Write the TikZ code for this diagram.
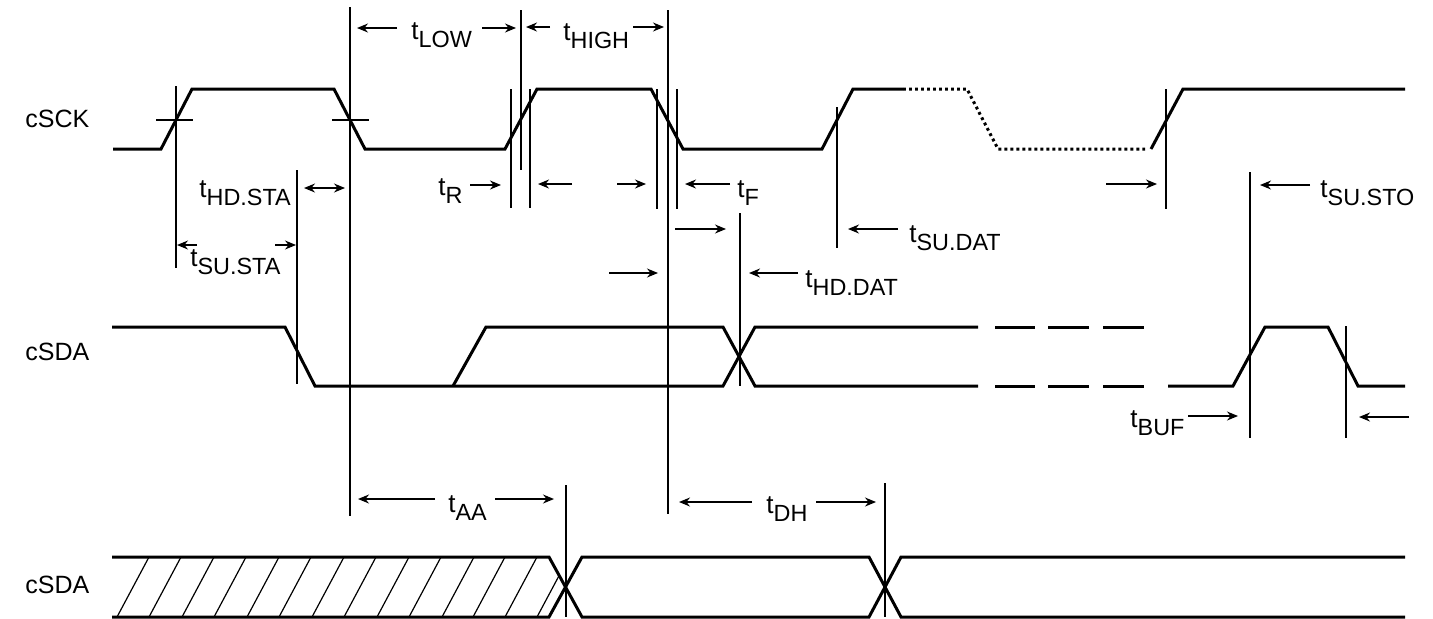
\documentclass[tikz,border=0pt]{standalone}
\usepackage{fontspec}
\setmainfont{Liberation Sans}
\usetikzlibrary{arrows.meta}
\newcommand{\tp}[1]{t\raisebox{-4.3pt}{\fontsize{11.7pt}{13pt}\selectfont #1}}

\begin{document}
\begin{tikzpicture}[x=0.5pt,y=-0.5pt,
	sig/.style={line width=1.5pt},
	guia/.style={line width=0.6pt},
	flecha/.style={line width=0.6pt,-{Stealth[length=5.5pt,width=4.5pt]}},
	txt/.style={inner sep=0pt,anchor=base west,font=\fontsize{13pt}{15pt}\selectfont},
	nom/.style={inner sep=0pt,anchor=base west,font=\fontsize{12.5pt}{15pt}\selectfont}]
	\useasboundingbox (0,0) rectangle (1433,618);

	% Nombres de las senales
	\node[nom] (sck) at (25,127) {cSCK};
	\node[nom] (sda) at (25,360) {cSDA};
	\node[nom] (sdb) at (25,593) {cSDA};

	% cSCK
	\draw[sig] (113,149) -- (161,149) -- (192,89) -- (334,89) -- (365,149) -- (505,149) -- (537,89) -- (651,89) -- (683,149) -- (822,149) -- (853,89) -- (903,89);
	\draw[sig,dash pattern=on 1.4pt off 1.6pt] (903,89) -- (967,89) -- (998,149) -- (1145,149);
	\draw[sig] (1151,149) -- (1183,89) -- (1405,89);

	% cSDA
	\draw[sig] (112,327) -- (285,327) -- (315,386) -- (723,386) -- (755,327) -- (978,327);
	\draw[sig] (453,386) -- (486,327) -- (723,327) -- (755,386) -- (978,386);
	\draw[sig] (995,327) -- (1035,327) (1048,327) -- (1089,327) (1103,327) -- (1144,327);
	\draw[sig] (995,386) -- (1035,386) (1048,386) -- (1089,386) (1103,386) -- (1144,386);
	\draw[sig] (1168,386) -- (1233,386) -- (1265,327) -- (1328,327) -- (1358,386) -- (1405,386);

	% cSDA (salida)
	\begin{scope}
		\clip (112,557) -- (549,557) -- (566,587) -- (549,617) -- (112,617) -- cycle;
		\draw[guia] (117,617) -- +(32,-60) (149,617) -- +(32,-60) (182,617) -- +(32,-60)
			(214,617) -- +(32,-60) (247,617) -- +(32,-60) (279,617) -- +(32,-60)
			(312,617) -- +(32,-60) (344,617) -- +(32,-60) (377,617) -- +(32,-60)
			(409,617) -- +(32,-60) (442,617) -- +(32,-60) (473,617) -- +(32,-60)
			(505,617) -- +(32,-60) (537,617) -- +(32,-60);
	\end{scope}
	\draw[sig] (112,557) -- (549,557) -- (582,617) -- (869,617) -- (901,557) -- (1405,557);
	\draw[sig] (112,617) -- (549,617) -- (582,557) -- (869,557) -- (901,617) -- (1405,617);

	% Lineas de referencia
	\draw[guia] (176,86) -- (176,268);
	\draw[guia] (156,120) -- (193,120);
	\draw[guia] (332,120) -- (369,120);
	\draw[guia] (350,7) -- (350,516);
	\draw[guia] (297,170) -- (297,384);
	\draw[guia] (521,10) -- (521,170);
	\draw[guia] (511,89) -- (511,208);
	\draw[guia] (530,89) -- (530,208);
	\draw[guia] (657,89) -- (657,209);
	\draw[guia] (677,89) -- (677,209);
	\draw[guia] (668,10) -- (668,514);
	\draw[guia] (740,213) -- (740,386);
	\draw[guia] (837,107) -- (837,248);
	\draw[guia] (1166,89) -- (1166,209);
	\draw[guia] (1250,172) -- (1250,438);
	\draw[guia] (1346,326) -- (1346,438);
	\draw[guia] (566,485) -- (566,617);
	\draw[guia] (885,483) -- (885,617);

	% Flechas y tiempos
	\draw[flecha] (397,28) -- (357,28);
	\node[txt] (tlow) at (411,39) {\tp{LOW}};
	\draw[flecha] (482,28) -- (516,28);

	\draw[flecha] (550,27) -- (526,27);
	\node[txt] (thigh) at (563,40) {\tp{HIGH}};
	\draw[flecha] (633,27) -- (664,27);

	\node[txt] (thdsta) at (199,197) {\tp{HD.STA}};
	\draw[guia,{Stealth[length=5.5pt,width=4.5pt]}-{Stealth[length=5.5pt,width=4.5pt]}] (304,188) -- (345,188);

	\draw[flecha] (197,245) -- (177,245);
	\node[txt] (tsusta) at (190,266) {\tp{SU.STA}};
	\draw[flecha] (275,245) -- (296,245);

	\node[txt] (tr) at (438,195) {\tp{R}};
	\draw[flecha] (470,185) -- (501,185);

	\draw[flecha] (572,184) -- (538,184);
	\draw[flecha] (617,184) -- (646,184);

	\draw[flecha] (730,184) -- (685,184);
	\node[txt] (tf) at (737,197) {\tp{F}};

	\draw[flecha] (675,229) -- (726,229);
	\draw[flecha] (898,229) -- (848,229);
	\node[txt] (tsudat) at (909,242) {\tp{SU.DAT}};

	\draw[flecha] (609,273) -- (658,273);
	\draw[flecha] (798,273) -- (749,273);
	\node[txt] (thddat) at (805,287) {\tp{HD.DAT}};

	\draw[flecha] (1106,184) -- (1157,184);
	\draw[flecha] (1310,185) -- (1260,185);
	\node[txt] (tsusto) at (1320,197) {\tp{SU.STO}};

	\node[txt] (tbuf) at (1130,427) {\tp{BUF}};
	\draw[flecha] (1188,416) -- (1238,416);
	\draw[flecha] (1409,417) -- (1359,417);

	\draw[flecha] (435,499) -- (358,499);
	\node[txt] (taa) at (448,512) {\tp{AA}};
	\draw[flecha] (495,499) -- (554,499);

	\draw[flecha] (752,502) -- (679,502);
	\node[txt] (tdh) at (766,513) {\tp{DH}};
	\draw[flecha] (816,502) -- (876,502);
\end{tikzpicture}
\end{document}
